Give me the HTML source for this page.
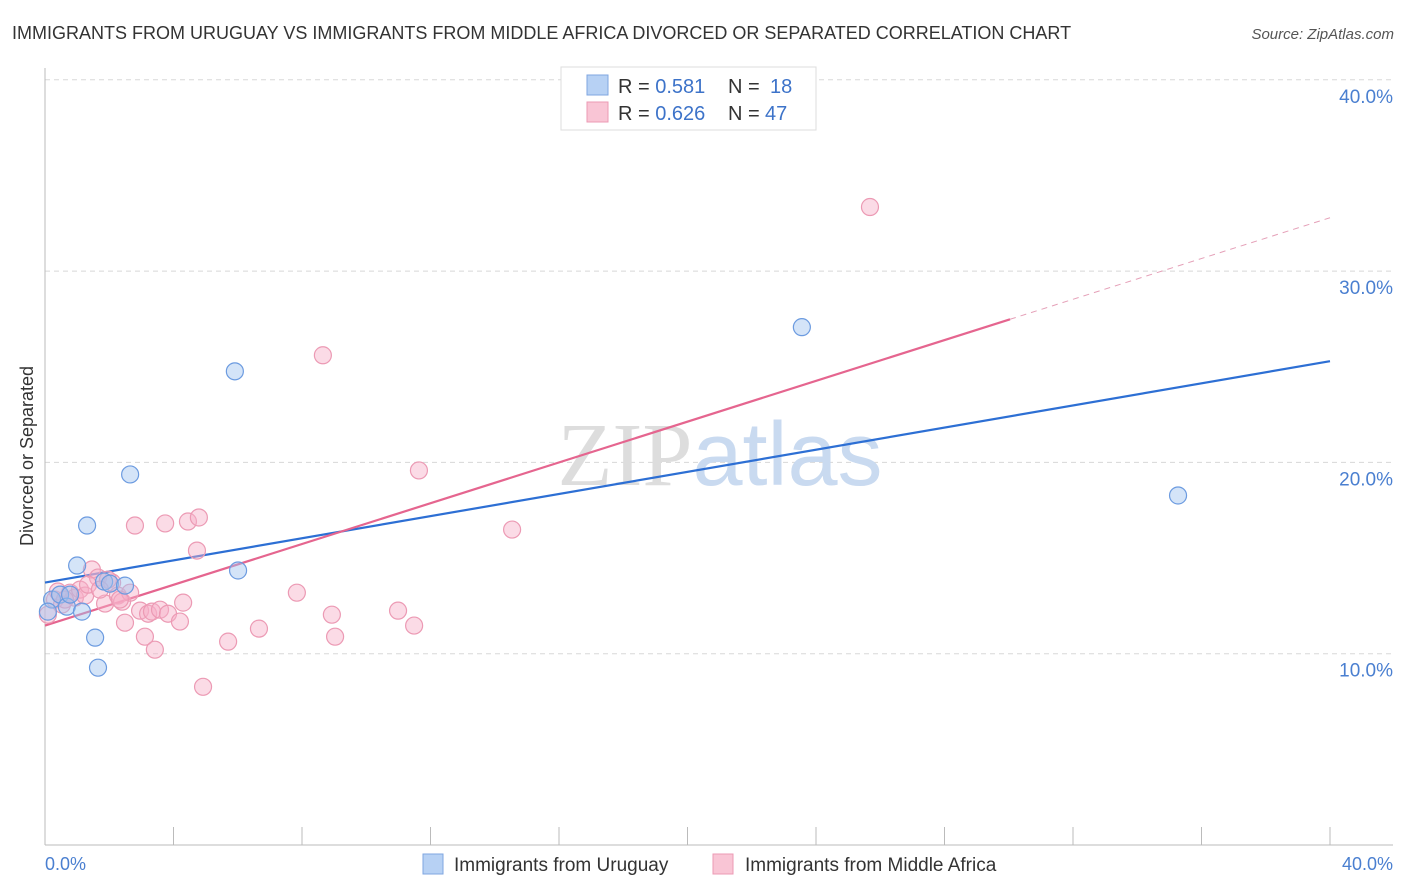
<!DOCTYPE html>
<html><head><meta charset="utf-8"><style>
body{margin:0;background:#fff;font-family:"Liberation Sans",sans-serif;}
svg{display:block}
</style></head><body>
<svg width="1406" height="892" xmlns="http://www.w3.org/2000/svg">
<text x="12" y="39" font-size="18" fill="#333">IMMIGRANTS FROM URUGUAY VS IMMIGRANTS FROM MIDDLE AFRICA DIVORCED OR SEPARATED CORRELATION CHART</text>
<text x="1394" y="39" font-size="15" fill="#555" font-style="italic" text-anchor="end">Source: ZipAtlas.com</text>
<g id="grid"></g>
<g id="axes"></g>
<text x="720" y="485" font-size="90" text-anchor="middle"><tspan fill="#ddd" font-family="Liberation Serif">ZIP</tspan><tspan fill="#c9daf0">atlas</tspan></text>
<g id="lines"></g>
<g id="points"></g>
<text transform="translate(33,456) rotate(-90)" font-size="18" fill="#333" text-anchor="middle">Divorced or Separated</text>
<text x="45" y="870" font-size="18" fill="#4a7fd0">0.0%</text>
<text x="1393" y="870" font-size="18" fill="#4a7fd0" text-anchor="end">40.0%</text>
<g>
<rect x="561" y="67" width="255" height="63" fill="#fff" stroke="#ddd"/>
<rect x="587" y="75" width="21" height="20" fill="#b7d1f4" stroke="#7fa6e0"/>
<rect x="587" y="102" width="21" height="20" fill="#f9c5d5" stroke="#ec9ab4"/>
<text x="618" y="93" font-size="20" fill="#333">R = <tspan fill="#3d73c9">0.581</tspan><tspan x="728">N = </tspan><tspan fill="#3d73c9" x="770">18</tspan></text>
<text x="618" y="120" font-size="20" fill="#333">R = <tspan fill="#3d73c9">0.626</tspan><tspan x="728">N = </tspan><tspan fill="#3d73c9" x="765">47</tspan></text>
</g>
<g>
<rect x="423" y="854" width="20" height="20" fill="#b7d1f4" stroke="#7fa6e0"/>
<text x="454" y="871" font-size="19" fill="#333">Immigrants from Uruguay</text>
<rect x="713" y="854" width="20" height="20" fill="#f9c5d5" stroke="#ec9ab4"/>
<text x="745" y="871" font-size="19" fill="#333">Immigrants from Middle Africa</text>
</g>
</svg>
<script>
const yTicks=[10,20,30,40];
const xTicks=[0,4,8,12,16,20,24,28,32,36,40];
const blueX=[0.22,0.47,0.68,1.0,1.15,1.31,1.56,1.65,1.84,2.02,2.49,2.65,5.91,6.01,23.56,35.27,0.09,0.78];
const blueY=[12.83,13.09,12.46,14.61,12.2,16.7,10.84,9.27,13.77,13.66,13.56,19.37,24.76,14.35,27.07,18.27,12.2,13.09];
const pinkX=[0.09,0.31,0.53,0.78,0.93,1.09,1.25,1.46,1.65,1.87,2.09,2.27,2.4,2.49,2.65,2.8,2.96,3.11,3.21,3.33,3.42,3.58,3.74,3.83,4.2,4.3,4.45,4.73,4.79,4.92,5.7,6.66,7.84,8.65,8.93,9.03,10.99,11.49,11.64,14.54,25.68,0.4,1.34,1.96,2.33,1.71,0.62];
const pinkY=[12.04,12.83,12.57,13.19,12.93,13.35,13.04,14.4,13.98,12.62,13.72,13.04,12.72,11.62,13.19,16.7,12.25,10.89,12.09,12.2,10.21,12.3,16.81,12.09,11.68,12.67,16.91,15.39,17.12,8.27,10.63,11.31,13.19,25.6,12.04,10.89,12.25,11.47,19.58,16.49,33.35,13.25,13.61,13.87,12.83,13.35,12.83];
const blueFit=[13.72,25.29];
const pinkFit=[11.47,0.533];
const pinkSolidEnd=30.04;
const NS="http://www.w3.org/2000/svg";
const sx=v=>45+v*32.125, sy=v=>845-v*19.13;
function mk(t,a,p){const e=document.createElementNS(NS,t);for(const k in a)e.setAttribute(k,a[k]);p.appendChild(e);return e;}
const grid=document.getElementById('grid'),axes=document.getElementById('axes'),lines=document.getElementById('lines'),pts=document.getElementById('points');
yTicks.forEach(t=>{
 const l=mk('line',{x1:45,x2:1393,y1:sy(t),y2:sy(t),stroke:'#d8d8d8','stroke-dasharray':'5,4'},grid);
 
 
 const tx=mk('text',{x:1393,y:sy(t)+23,'font-size':19,fill:'#4a7fd0','text-anchor':'end'},grid);
 tx.textContent=t.toFixed(1)+'%';
 
 
});
mk('line',{x1:45,x2:45,y1:68,y2:845,stroke:'#bbb'},axes);
mk('line',{x1:45,x2:1393,y1:845,y2:845,stroke:'#bbb'},axes);
xTicks.forEach(t=>{const l=mk('line',{x1:sx(t),x2:sx(t),y1:827,y2:845,stroke:'#bbb'},axes);
 
 });
const bl=mk('line',{x1:sx(0),y1:sy(blueFit[0]),x2:sx(40),y2:sy(blueFit[1]),stroke:'#2d6fd4','stroke-width':2.2},lines);


const pl=mk('line',{x1:sx(0),y1:sy(pinkFit[0]),x2:sx(pinkSolidEnd),y2:sy(pinkFit[0]+pinkFit[1]*pinkSolidEnd),stroke:'#e5658f','stroke-width':2.2},lines);


const pd=mk('line',{x1:sx(pinkSolidEnd),y1:sy(pinkFit[0]+pinkFit[1]*pinkSolidEnd),x2:sx(40),y2:sy(pinkFit[0]+pinkFit[1]*40),stroke:'#e5a0b8','stroke-width':1,'stroke-dasharray':'6,5'},lines);


pinkX.forEach((x,i)=>{const c=mk('circle',{cx:sx(x),cy:sy(pinkY[i]),r:8.5,fill:'rgba(247,176,200,0.45)',stroke:'#ec9ab4','stroke-width':1.2},pts);
 
 });
blueX.forEach((x,i)=>{const c=mk('circle',{cx:sx(x),cy:sy(blueY[i]),r:8.5,fill:'rgba(160,195,240,0.45)',stroke:'#6c9be0','stroke-width':1.2},pts);
 
 });
</script>
</body></html>
